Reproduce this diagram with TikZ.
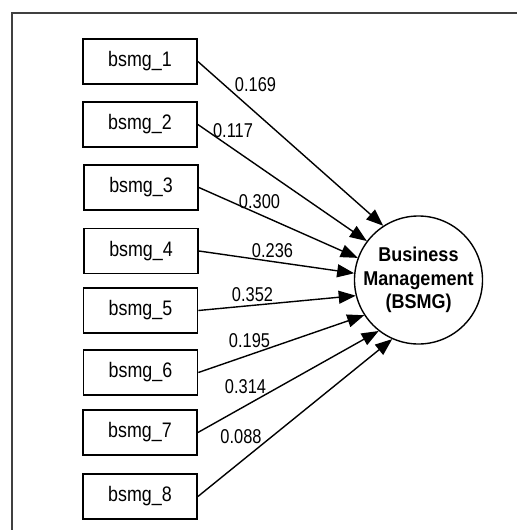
\documentclass[tikz,border=0pt]{standalone}
\usepackage{fontspec}
\setmainfont{Liberation Sans}[FakeStretch=0.85]
\newfontfamily\coeffont{Liberation Sans}[FakeStretch=0.82]
\newfontfamily\latentfont{Liberation Sans}[FakeStretch=0.9]
\usetikzlibrary{arrows.meta}
\begin{document}
\begin{tikzpicture}[x=1pt,y=-1pt,
  itembox/.style={draw,line width=1.8pt,minimum width=114pt,minimum height=45pt,inner sep=0pt,font=\fontsize{21}{24}\selectfont},
  latent/.style={draw,circle,line width=1.4pt,minimum size=122pt,inner sep=0pt,align=center,font=\latentfont\fontsize{20}{23.5}\selectfont\bfseries},
  path/.style={line width=1.4pt,-{Triangle[length=17pt,width=13pt]}},
  coef/.style={inner sep=0pt,font=\coeffont\fontsize{20}{23}\selectfont},
  frameline/.style={line width=1.5pt,draw=black!75}]
\useasboundingbox (0,0) rectangle (517,530);
% outer frame (top and left edges)
\draw[frameline] (12,530) -- (12,13) -- (517,13);
% indicator boxes
\node[itembox] (b1) at (140,61.5) {bsmg\_1};
\node[itembox] (b2) at (140,124.5) {bsmg\_2};
\node[itembox] (b3) at (141,187.5) {bsmg\_3};
\node[itembox] (b4) at (141,251) {bsmg\_4};
\node[itembox] (b5) at (140.5,310.5) {bsmg\_5};
\node[itembox] (b6) at (140.5,372.5) {bsmg\_6};
\node[itembox] (b7) at (140,432.5) {bsmg\_7};
\node[itembox] (b8) at (140,496.5) {bsmg\_8};
% latent construct
\node[latent] (bsmg) at (418.5,280) {Business\\Management\\(BSMG)};
% loadings
\draw[path] (b1.east) -- (bsmg.123);
\draw[path] (b2.east) -- (bsmg.143);
\draw[path] (b3.east) -- (bsmg.160);
\draw[path] (b4.east) -- (bsmg.174.5);
\draw[path] (b5.east) -- (bsmg.194.5);
\draw[path] (b6.east) -- (bsmg.213.5);
\draw[path] (b7.east) -- (bsmg.232.5);
\draw[path] (b8.east) -- (bsmg.246.5);
% coefficient labels
\node[coef] (l1) at (255.5,85) {0.169};
\node[coef] (l2) at (233,130.5) {0.117};
\node[coef] (l3) at (259.5,201.5) {0.300};
\node[coef] (l4) at (272.5,251) {0.236};
\node[coef] (l5) at (252.5,294.5) {0.352};
\node[coef] (l6) at (249.5,340.5) {0.195};
\node[coef] (l7) at (245.5,387) {0.314};
\node[coef] (l8) at (241,436.5) {0.088};
\end{tikzpicture}
\end{document}
